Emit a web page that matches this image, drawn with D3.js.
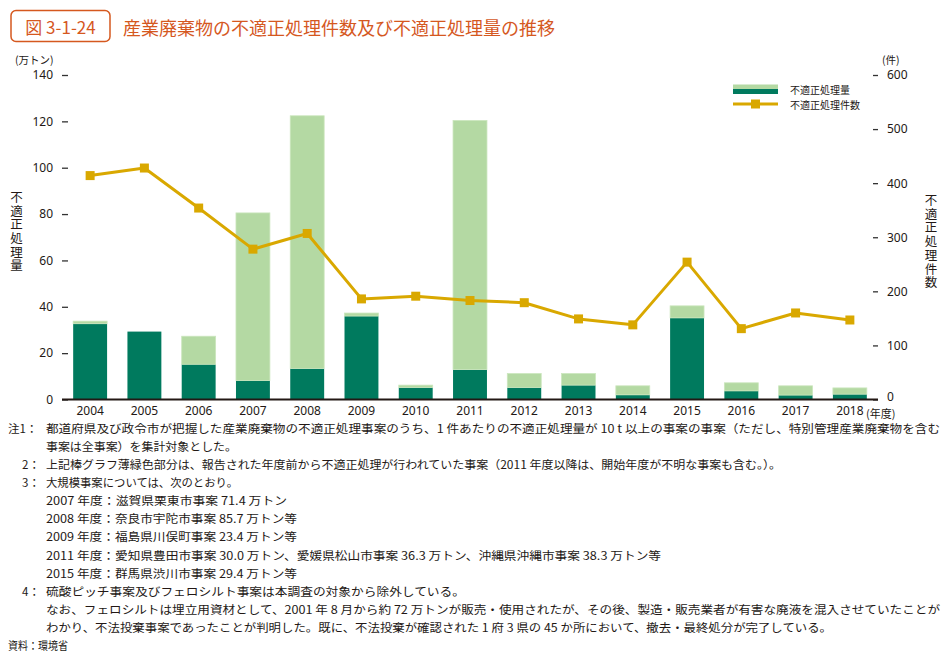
<!DOCTYPE html>
<html lang="ja">
<head>
<meta charset="utf-8">
<script src="https://cdn.jsdelivr.net/npm/d3@7"></script>
<style>
  html, body { margin: 0; padding: 0; background: #ffffff; }
  svg { display: block; }
  text { font-family: "Noto Sans CJK JP", "Noto Sans", sans-serif; fill: #231815; }
</style>
</head>
<body>
<svg id="chart" width="948" height="656"></svg>
<script>
// ---- data ----
const years = ["2004","2005","2006","2007","2008","2009","2010","2011","2012","2013","2014","2015","2016","2017","2018"];
// 不適正処理量 (万トン): dark part (年度内開始) and total
const amountDark  = [32.7, 29.3, 15.2, 8.2, 13.4, 36.0, 5.2, 12.9, 5.2, 6.2, 2.0, 35.2, 3.7, 1.9, 2.3];
const amountTotal = [33.8, 29.3, 27.3, 80.5, 122.4, 37.3, 6.2, 120.4, 11.2, 11.2, 5.9, 40.4, 7.2, 5.9, 5.0];
// 不適正処理件数 (件)
const cases = [414, 428, 354, 278, 307, 186, 191, 183, 179, 149, 138, 254, 131, 160, 147];
const leftTicks  = [0, 20, 40, 60, 80, 100, 120, 140];
const rightTicks = [0, 100, 200, 300, 400, 500, 600];

const titleLabel = "図 3-1-24";
const titleText = "産業廃棄物の不適正処理件数及び不適正処理量の推移";
const legendLabels = ["不適正処理量", "不適正処理件数"];
const leftAxisTitle = "不適正処理量";
const rightAxisTitle = "不適正処理件数";
const notePrefixes = ["注1：", "", "2：", "3：", "", "", "", "", "", "4：", "", "", ""];
const noteBodies = [
  "都道府県及び政令市が把握した産業廃棄物の不適正処理事案のうち、1 件あたりの不適正処理量が 10 t 以上の事案の事案（ただし、特別管理産業廃棄物を含む",
  "事案は全事案）を集計対象とした。",
  "上記棒グラフ薄緑色部分は、報告された年度前から不適正処理が行われていた事案（2011 年度以降は、開始年度が不明な事案も含む。）。",
  "大規模事案については、次のとおり。",
  "2007 年度：滋賀県栗東市事案 71.4 万トン",
  "2008 年度：奈良市宇陀市事案 85.7 万トン等",
  "2009 年度：福島県川俣町事案 23.4 万トン等",
  "2011 年度：愛知県豊田市事案 30.0 万トン、愛媛県松山市事案 36.3 万トン、沖縄県沖縄市事案 38.3 万トン等",
  "2015 年度：群馬県渋川市事案 29.4 万トン等",
  "硫酸ピッチ事案及びフェロシルト事案は本調査の対象から除外している。",
  "なお、フェロシルトは埋立用資材として、2001 年 8 月から約 72 万トンが販売・使用されたが、その後、製造・販売業者が有害な廃液を混入させていたことが",
  "わかり、不法投棄事案であったことが判明した。既に、不法投棄が確認された 1 府 3 県の 45 か所において、撤去・最終処分が完了している。",
  "資料：環境省"
];

// ---- layout ----
const noteEnds = [940, 237, 781, 238, 287, 297, 297, 661, 297, 465, 940, 832, 68];
const svg = d3.select("#chart");
const orange = "#d5581f";
const darkGreen = "#007a5e";
const lightGreen = "#b4d9a3";
const gold = "#d9a800";

const x = d3.scaleBand().domain(years).range([63, 877]).paddingInner(0.375).paddingOuter(0.1875);
const yL = d3.scaleLinear().domain([0, 140]).range([399.5, 75]);
const yR = d3.scaleLinear().domain([0, 600]).range([399.5, 75]);

// title
svg.append("rect").attr("x", 11).attr("y", 10.5).attr("width", 99).attr("height", 31)
  .attr("rx", 5).attr("fill", "none").attr("stroke", orange).attr("stroke-width", 1.5);
svg.append("text").attr("x", 60.5).attr("y", 26.5).attr("text-anchor", "middle")
  .attr("dominant-baseline", "central").style("font-size", "17px").style("fill", orange)
  .text(titleLabel);
svg.append("text").attr("x", 123).attr("y", 26.5).attr("dominant-baseline", "central")
  .style("font-size", "18px").style("fill", orange).attr("textLength", 432)
  .attr("lengthAdjust", "spacingAndGlyphs").text(titleText);

// units
svg.append("text").attr("x", 15).attr("y", 59.5).attr("dominant-baseline", "central")
  .style("font-size", "10.5px").text("(万トン)");
svg.append("text").attr("x", 882).attr("y", 59.5).attr("dominant-baseline", "central")
  .style("font-size", "10.5px").text("(件)");

// bars
const g = svg.append("g");
years.forEach((yr, i) => {
  g.append("rect").attr("x", x(yr)).attr("width", x.bandwidth())
    .attr("y", yL(amountDark[i])).attr("height", yL(0) - yL(amountDark[i]))
    .attr("fill", darkGreen);
  if (amountTotal[i] > amountDark[i]) {
    g.append("rect").attr("x", x(yr)).attr("width", x.bandwidth())
      .attr("y", yL(amountTotal[i])).attr("height", yL(amountDark[i]) - yL(amountTotal[i]))
      .attr("fill", lightGreen).attr("stroke", "#cbe6bd").attr("stroke-width", 0.8);
  }
});

// left axis
const axL = svg.append("g").attr("transform", "translate(68,0)")
  .call(d3.axisLeft(yL).tickValues(leftTicks).tickSize(6).tickPadding(9));
axL.select(".domain").remove();
axL.selectAll(".tick line").attr("stroke", "#333").attr("stroke-width", 1.3);
axL.selectAll(".tick text").style("font-size", "12px").style("font-family", "\"Noto Sans\", sans-serif").attr("fill", "#231815");

// right axis
const axR = svg.append("g").attr("transform", "translate(873,0)")
  .call(d3.axisRight(yR).tickValues(rightTicks).tickSize(5).tickPadding(9));
axR.select(".domain").remove();
axR.selectAll(".tick line").attr("stroke", "#333").attr("stroke-width", 1.3);
axR.selectAll(".tick text").style("font-size", "12px").style("font-family", "\"Noto Sans\", sans-serif").attr("fill", "#231815");
axR.selectAll(".tick").filter(d => d === 0).select("text").attr("dy", "0.12em");

// baseline
svg.append("line").attr("x1", 62).attr("x2", 878).attr("y1", yL(0)).attr("y2", yL(0))
  .attr("stroke", "#231815").attr("stroke-width", 2);

// x labels
const axX = svg.append("g").attr("transform", `translate(0,${yL(0)})`)
  .call(d3.axisBottom(x).tickSize(0).tickPadding(7));
axX.select(".domain").remove();
axX.selectAll(".tick text").style("font-size", "12px").style("font-family", "\"Noto Sans\", sans-serif").attr("fill", "#231815");
svg.append("text").attr("x", 866).attr("y", 412.5).attr("dominant-baseline", "central")
  .style("font-size", "11px").text("(年度)");

// line
const line = d3.line().x((d, i) => x(years[i]) + x.bandwidth() / 2).y(d => yR(d));
svg.append("path").datum(cases).attr("d", line).attr("fill", "none")
  .attr("stroke", gold).attr("stroke-width", 3).attr("stroke-linejoin", "round");
svg.selectAll("rect.mk").data(cases).enter().append("rect").attr("class", "mk")
  .attr("x", (d, i) => x(years[i]) + x.bandwidth() / 2 - 4.5)
  .attr("y", d => yR(d) - 4.5).attr("width", 9).attr("height", 9).attr("fill", gold);

// axis titles (vertical writing)
svg.append("text").attr("x", 16.5).attr("y", 232).attr("text-anchor", "middle")
  .style("writing-mode", "vertical-rl").style("font-size", "12.5px")
  .style("letter-spacing", "1.2px").text(leftAxisTitle);
svg.append("text").attr("x", 931).attr("y", 242).attr("text-anchor", "middle")
  .style("writing-mode", "vertical-rl").style("font-size", "12.5px")
  .style("letter-spacing", "1.2px").text(rightAxisTitle);

// legend
svg.append("rect").attr("x", 733).attr("y", 84.5).attr("width", 45).attr("height", 4.5).attr("fill", lightGreen);
svg.append("rect").attr("x", 733).attr("y", 89).attr("width", 45).attr("height", 5).attr("fill", darkGreen);
svg.append("text").attr("x", 790).attr("y", 89).attr("dominant-baseline", "central")
  .style("font-size", "10px").text(legendLabels[0]);
svg.append("line").attr("x1", 733).attr("x2", 778).attr("y1", 104).attr("y2", 104)
  .attr("stroke", gold).attr("stroke-width", 3);
svg.append("rect").attr("x", 751).attr("y", 99.5).attr("width", 9).attr("height", 9).attr("fill", gold);
svg.append("text").attr("x", 790).attr("y", 104).attr("dominant-baseline", "central")
  .style("font-size", "10px").text(legendLabels[1]);

// notes
const notes = svg.append("g");
noteBodies.forEach((t, i) => {
  const yy = 427.5 + i * 18.15;
  const isSource = i === noteBodies.length - 1;
  const x0 = isSource ? 8 : 46;
  if (notePrefixes[i]) {
    const px = notePrefixes[i].startsWith("注") ? 8 : 22;
    notes.append("text").attr("x", px).attr("y", yy).attr("dominant-baseline", "central")
      .style("font-size", "11.5px").text(notePrefixes[i]);
  }
  notes.append("text").attr("x", x0).attr("y", yy).attr("dominant-baseline", "central")
    .style("font-size", "11.5px").attr("textLength", noteEnds[i] - x0)
    .attr("lengthAdjust", "spacingAndGlyphs").text(t);
});
</script>
</body>
</html>
